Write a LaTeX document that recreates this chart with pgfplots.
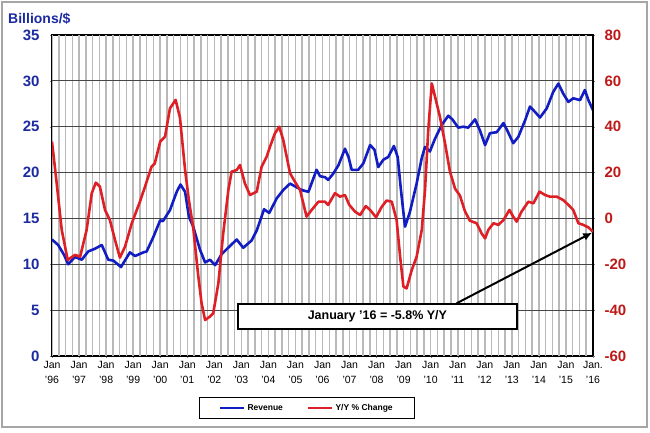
\documentclass[border=0pt]{standalone}
\usepackage{pgfplots}
\pgfplotsset{compat=1.18}
\usetikzlibrary{arrows.meta}
\usepackage{fontspec}
\setmainfont{Liberation Sans}
\definecolor{revblue}{RGB}{18,28,195}
\definecolor{yyred}{RGB}{222,32,38}
\definecolor{lblue}{RGB}{28,42,160}
\definecolor{lred}{RGB}{190,25,25}
\definecolor{vgridc}{RGB}{185,185,185}
\definecolor{hgridc}{RGB}{70,70,70}
\begin{document}
\begin{tikzpicture}
\useasboundingbox (0pt,0pt) rectangle (650pt,432pt);
\draw[gray!70, line width=1.2pt] (2pt,5pt) rectangle (647pt,430pt);
\node[anchor=base east, text=lblue, font=\bfseries\fontsize{14}{14}\selectfont] at (74pt,408pt) {Billions/\$};
\begin{axis}[
  at={(52pt,76pt)}, anchor=south west, scale only axis,
  width=541pt, height=321pt,
  xmin=1996, xmax=2016, ymin=0, ymax=35,
  axis line style={black, line width=1.2pt},
  xtick pos=left, ytick pos=left,
  xtick={1996,...,2016},
  xticklabels={Jan\\'96,Jan\\'97,Jan\\'98,Jan\\'99,Jan\\'00,Jan\\'01,Jan\\'02,Jan\\'03,Jan\\'04,Jan\\'05,Jan\\'06,Jan\\'07,Jan\\'08,Jan\\'09,Jan\\'10,Jan\\'11,Jan\\'12,Jan\\'13,Jan\\'14,Jan\\'15,Jan.\\'16},
  xticklabel style={align=center, font=\fontsize{10.5}{15}\selectfont, text=black},
  ytick={0,5,...,35},
  tick align=outside, major tick length=2pt,
  yticklabel style={font=\bfseries\fontsize{15}{15}\selectfont, text=lblue, xshift=-7pt},
  /pgf/number format/assume math mode=true,
  legend style={at={(0.471,-0.162)}, anchor=center, draw=black, line width=0.8pt,
    font=\bfseries\fontsize{8.5}{9}\selectfont, legend columns=2,
    /tikz/every even column/.append style={column sep=22pt},
    inner xsep=20pt, inner ysep=5pt},
  legend image code/.code={\draw[#1] (0pt,0pt) -- (24pt,0pt);},
]
% quarterly vertical grid lines
\addplot[ycomb, draw=vgridc, line width=1.5pt, mark=none, forget plot] coordinates {
(1996,35) (1996.25,35) (1996.5,35) (1996.75,35) (1997,35) (1997.25,35) (1997.5,35) (1997.75,35)
(1998,35) (1998.25,35) (1998.5,35) (1998.75,35) (1999,35) (1999.25,35) (1999.5,35) (1999.75,35)
(2000,35) (2000.25,35) (2000.5,35) (2000.75,35) (2001,35) (2001.25,35) (2001.5,35) (2001.75,35)
(2002,35) (2002.25,35) (2002.5,35) (2002.75,35) (2003,35) (2003.25,35) (2003.5,35) (2003.75,35)
(2004,35) (2004.25,35) (2004.5,35) (2004.75,35) (2005,35) (2005.25,35) (2005.5,35) (2005.75,35)
(2006,35) (2006.25,35) (2006.5,35) (2006.75,35) (2007,35) (2007.25,35) (2007.5,35) (2007.75,35)
(2008,35) (2008.25,35) (2008.5,35) (2008.75,35) (2009,35) (2009.25,35) (2009.5,35) (2009.75,35)
(2010,35) (2010.25,35) (2010.5,35) (2010.75,35) (2011,35) (2011.25,35) (2011.5,35) (2011.75,35)
(2012,35) (2012.25,35) (2012.5,35) (2012.75,35) (2013,35) (2013.25,35) (2013.5,35) (2013.75,35)
(2014,35) (2014.25,35) (2014.5,35) (2014.75,35) (2015,35) (2015.25,35) (2015.5,35) (2015.75,35)
(2016,35)
};
% horizontal grid lines
\addplot[hgridc, line width=1.1pt, forget plot] coordinates {(1996,5) (2016,5)};
\addplot[hgridc, line width=1.1pt, forget plot] coordinates {(1996,10) (2016,10)};
\addplot[hgridc, line width=1.1pt, forget plot] coordinates {(1996,15) (2016,15)};
\addplot[hgridc, line width=1.1pt, forget plot] coordinates {(1996,20) (2016,20)};
\addplot[hgridc, line width=1.1pt, forget plot] coordinates {(1996,25) (2016,25)};
\addplot[hgridc, line width=1.1pt, forget plot] coordinates {(1996,30) (2016,30)};
\addplot[revblue, line width=2.6pt, line join=round] coordinates {
(1996.0,12.7) (1996.23,12.1) (1996.45,11.0) (1996.6,10.0) (1996.85,10.8) (1997.1,10.5)
(1997.34,11.4) (1997.59,11.7) (1997.84,12.1) (1998.08,10.5) (1998.27,10.4) (1998.55,9.7)
(1998.88,11.3) (1999.07,10.9) (1999.38,11.3) (1999.5,11.4) (1999.75,13.0) (2000.0,14.8)
(2000.1,14.7) (2000.36,15.9) (2000.61,17.9) (2000.75,18.7) (2000.92,17.9) (2001.06,15.2)
(2001.22,14.1) (2001.47,11.6) (2001.66,10.2) (2001.84,10.5) (2002.03,9.9) (2002.27,11.1)
(2002.58,12.0) (2002.83,12.7) (2003.07,11.8) (2003.38,12.6) (2003.57,13.7) (2003.84,16.0)
(2004.03,15.6) (2004.31,17.2) (2004.55,18.1) (2004.8,18.8) (2004.98,18.5) (2005.23,18.1)
(2005.48,17.9) (2005.78,20.3) (2005.91,19.6) (2006.09,19.5) (2006.21,19.2) (2006.4,19.9)
(2006.59,20.8) (2006.83,22.6) (2006.96,21.7) (2007.08,20.3) (2007.32,20.3) (2007.51,21.0)
(2007.76,23.0) (2007.92,22.5) (2008.06,20.6) (2008.25,21.4) (2008.43,21.7) (2008.64,22.9)
(2008.78,21.7) (2008.9,18.1) (2009.05,14.1) (2009.23,15.7) (2009.48,18.8) (2009.67,21.6)
(2009.79,22.8) (2009.97,22.3) (2010.16,23.7) (2010.41,25.2) (2010.65,26.2) (2010.8,25.8)
(2011.02,24.9) (2011.2,25.0) (2011.39,24.9) (2011.64,25.8) (2011.82,24.6) (2012.01,23.0)
(2012.19,24.3) (2012.44,24.4) (2012.69,25.4) (2012.83,24.6) (2013.05,23.2) (2013.24,23.9)
(2013.49,25.7) (2013.67,27.2) (2013.86,26.6) (2014.04,26.0) (2014.29,27.0) (2014.53,28.8)
(2014.72,29.7) (2014.9,28.6) (2015.09,27.7) (2015.27,28.1) (2015.52,27.9) (2015.7,29.0)
(2015.83,27.9) (2016.0,26.8)
};
\addlegendentry{Revenue}
\addlegendimage{yyred, line width=2.6pt}
\addlegendentry{Y/Y \% Change}
\end{axis}
\begin{axis}[
  at={(52pt,76pt)}, anchor=south west, scale only axis,
  width=541pt, height=321pt,
  xmin=1996, xmax=2016, ymin=-60, ymax=80,
  axis y line*=right, axis x line=none,
  axis line style={black, line width=1.2pt},
  ytick={-60,-40,...,80},
  tick align=outside, major tick length=2pt,
  yticklabel style={font=\bfseries\fontsize{15}{15}\selectfont, text=lred, xshift=6pt},
  /pgf/number format/assume math mode=true,
]
\addplot[yyred, line width=2.6pt, line join=round] coordinates {
(1996.0,33.5) (1996.16,16.8) (1996.36,-5) (1996.58,-18.1) (1996.85,-15.9) (1997.04,-16.7)
(1997.28,-5) (1997.47,11) (1997.62,15.6) (1997.77,13.9) (1997.96,3.7) (1998.14,-0.7)
(1998.33,-9.4) (1998.51,-17.1) (1998.70,-12.3) (1998.95,-2.1) (1999.25,7.3) (1999.44,13.9)
(1999.68,22.6) (1999.8,24) (2000.0,33.5) (2000.18,35.7) (2000.36,48) (2000.57,51.7)
(2000.73,44) (2000.92,21.1) (2001.06,8) (2001.22,-4) (2001.41,-25.4) (2001.53,-37)
(2001.66,-44.3) (2001.84,-42.8) (2001.96,-41.4) (2002.15,-28.3) (2002.33,-6.5) (2002.52,12.4)
(2002.64,20.4) (2002.83,21.1) (2002.95,23.3) (2003.13,15.3) (2003.32,10.2) (2003.57,11.7)
(2003.75,22.6) (2003.94,27) (2004.06,31.3) (2004.24,37.1) (2004.40,40) (2004.55,34.2)
(2004.80,19.7) (2004.98,16) (2005.17,12.4) (2005.41,0.8) (2005.6,3.7) (2005.85,7.3)
(2006.09,7.3) (2006.21,5.9) (2006.46,11) (2006.65,9.5) (2006.83,10.2) (2006.99,5.9)
(2007.2,3) (2007.39,1.5) (2007.6,5.4) (2007.76,3.7) (2007.98,0.5) (2008.19,5.1)
(2008.37,7.8) (2008.56,7.3) (2008.74,-0.7) (2008.87,-16.7) (2008.99,-29.7) (2009.11,-30.5)
(2009.3,-22.5) (2009.48,-16.7) (2009.67,-5) (2009.79,12.4) (2009.91,38.6) (2010.04,58.9)
(2010.16,53.1) (2010.34,44.4) (2010.53,32.8) (2010.71,20.5) (2010.9,13) (2011.08,10)
(2011.27,3) (2011.45,-1) (2011.7,-2.1) (2011.88,-6.5) (2012.01,-8.7) (2012.13,-5)
(2012.32,-2.1) (2012.5,-2.8) (2012.69,-0.7) (2012.91,3.7) (2013.05,0.8) (2013.18,-1.4)
(2013.36,3) (2013.61,7.3) (2013.8,6.6) (2014.02,11.7) (2014.23,10.2) (2014.41,9.5)
(2014.66,9.5) (2014.9,8) (2015.09,5.9) (2015.27,3.7) (2015.46,-2.1) (2015.64,-2.8)
(2015.83,-3.9) (2016.0,-5.8)
};
\draw[black, line width=2pt, -{Latex[length=9pt,width=8pt]}] (axis cs:2010.96,-37) -- (axis cs:2015.97,-6.2);
\node[draw=black, line width=2pt, fill=white, minimum width=279pt, minimum height=25pt,
  font=\bfseries\fontsize{12.5}{13}\selectfont, inner sep=0pt] at (axis cs:2008.03,-42.8) {January '16 = -5.8\% Y/Y};
\end{axis}
\end{tikzpicture}
\end{document}
